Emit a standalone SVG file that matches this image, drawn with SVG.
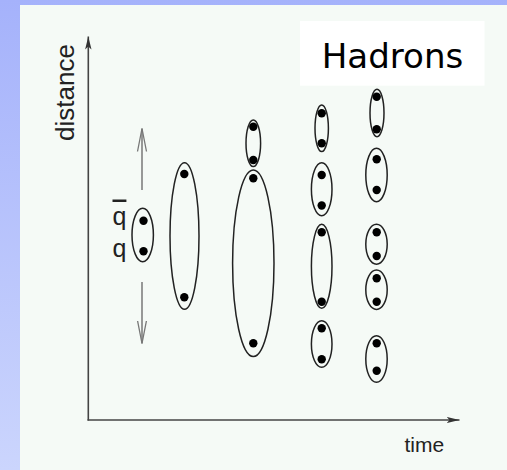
<svg xmlns="http://www.w3.org/2000/svg" width="507" height="470" viewBox="0 0 507 470">
  <defs>
    <linearGradient id="bg" x1="0" y1="0" x2="0" y2="1">
      <stop offset="0" stop-color="#a5b2fb"/>
      <stop offset="1" stop-color="#cbd5fd"/>
    </linearGradient>
    <marker id="axhead" markerWidth="14" markerHeight="8" refX="13" refY="4" orient="auto" markerUnits="userSpaceOnUse">
      <path d="M0,0.8 L13,4 L0,7.2 L3,4 Z" fill="#333"/>
    </marker>
    <marker id="vhead" markerWidth="26" markerHeight="12" refX="23" refY="6" orient="auto" markerUnits="userSpaceOnUse">
      <path d="M0,1.5 L23,6 L0,10.5" fill="none" stroke="#777" stroke-width="1.3"/>
    </marker>
  </defs>
  <style>
    .oval { fill: none; stroke: #222; stroke-width: 1.5; }
    .dot { fill: #000; }
    .axis { stroke: #444; stroke-width: 1.6; fill: none; }
    .sarrow { stroke: #777; stroke-width: 1.5; fill: none; }
    .lbl { font-family: "Liberation Sans", Arial, sans-serif; fill: #222; }
  </style>
  <rect x="0" y="0" width="507" height="470" fill="url(#bg)"/>
  <rect x="20" y="5" width="487" height="465" fill="#f5faf6"/>

  <g id="title">
    <rect x="300" y="21" width="184.5" height="64.7" fill="#ffffff"/>
    <text x="321.7" y="67.5" font-family="'DejaVu Sans', sans-serif" font-size="33" textLength="141.6" lengthAdjust="spacingAndGlyphs" fill="#000">Hadrons</text>
  </g>

  <g id="connectors">
    <line class="axis" x1="88.3" y1="420.5" x2="88.3" y2="36.5" marker-end="url(#axhead)"/>
    <line class="axis" x1="87.5" y1="420" x2="459.5" y2="420" marker-end="url(#axhead)"/>
    <line class="sarrow" x1="142" y1="190" x2="142" y2="128.5" marker-end="url(#vhead)"/>
    <line class="sarrow" x1="142" y1="282" x2="142" y2="343.5" marker-end="url(#vhead)"/>
  </g>

  <g id="axis-labels">
    <text class="lbl" x="0" y="0" font-size="26" text-anchor="middle" transform="translate(74,92.5) rotate(-90)">distance</text>
    <text class="lbl" x="404.5" y="451.8" font-size="21">time</text>
    <text class="lbl" x="112.5" y="224.5" font-size="25" text-decoration="overline">q</text>
    <text class="lbl" x="112.5" y="256.6" font-size="25">q</text>
  </g>

  <g id="pair-initial">
    <ellipse class="oval" cx="142.7" cy="235" rx="10.7" ry="26.7"/>
    <circle class="dot" cx="143.5" cy="220.7" r="4.2"/>
    <circle class="dot" cx="143.5" cy="251.2" r="4.2"/>
  </g>

  <g id="string-1">
    <ellipse class="oval" cx="184.5" cy="236" rx="14.5" ry="73.3"/>
    <circle class="dot" cx="184.3" cy="174" r="4.2"/>
    <circle class="dot" cx="184.3" cy="297.3" r="4.2"/>
  </g>

  <g id="hadron-3a">
    <ellipse class="oval" cx="253.3" cy="143.3" rx="7.3" ry="23.3"/>
    <circle class="dot" cx="253.3" cy="126.7" r="4.2"/>
    <circle class="dot" cx="253.3" cy="160" r="4.2"/>
  </g>
  <g id="string-3b">
    <ellipse class="oval" cx="253.3" cy="263.3" rx="20.7" ry="93.3"/>
    <circle class="dot" cx="253.3" cy="178.3" r="4.2"/>
    <circle class="dot" cx="253.3" cy="343.3" r="4.2"/>
  </g>

  <g id="hadron-4a">
    <ellipse class="oval" cx="321.7" cy="128.3" rx="6.7" ry="23.3"/>
    <circle class="dot" cx="321.7" cy="113.3" r="4.2"/>
    <circle class="dot" cx="321.7" cy="143.3" r="4.2"/>
  </g>
  <g id="hadron-4b">
    <ellipse class="oval" cx="321.7" cy="189.2" rx="10.3" ry="26.5"/>
    <circle class="dot" cx="321.7" cy="175" r="4.2"/>
    <circle class="dot" cx="321.7" cy="205.5" r="4.2"/>
  </g>
  <g id="string-4c">
    <ellipse class="oval" cx="321.7" cy="266.3" rx="10.3" ry="42"/>
    <circle class="dot" cx="321.7" cy="232.3" r="4.2"/>
    <circle class="dot" cx="321.7" cy="301.7" r="4.2"/>
  </g>
  <g id="hadron-4d">
    <ellipse class="oval" cx="321.7" cy="344" rx="10.3" ry="23.3"/>
    <circle class="dot" cx="321.7" cy="328.3" r="4.2"/>
    <circle class="dot" cx="321.7" cy="359.3" r="4.2"/>
  </g>

  <g id="hadron-5a">
    <ellipse class="oval" cx="377" cy="113" rx="7" ry="23.7"/>
    <circle class="dot" cx="376.7" cy="96.7" r="4.2"/>
    <circle class="dot" cx="376.7" cy="129.3" r="4.2"/>
  </g>
  <g id="hadron-5b">
    <ellipse class="oval" cx="376.5" cy="175" rx="10.7" ry="26.7"/>
    <circle class="dot" cx="376.7" cy="159.3" r="4.2"/>
    <circle class="dot" cx="376.7" cy="190" r="4.2"/>
  </g>
  <g id="hadron-5c">
    <ellipse class="oval" cx="376.5" cy="244.2" rx="10.7" ry="20"/>
    <circle class="dot" cx="376.7" cy="232.3" r="4.2"/>
    <circle class="dot" cx="376.7" cy="256" r="4.2"/>
  </g>
  <g id="hadron-5d">
    <ellipse class="oval" cx="376.5" cy="289.7" rx="10.7" ry="19.7"/>
    <circle class="dot" cx="376.7" cy="278.3" r="4.2"/>
    <circle class="dot" cx="376.7" cy="301.7" r="4.2"/>
  </g>
  <g id="hadron-5e">
    <ellipse class="oval" cx="376.5" cy="359" rx="10.7" ry="23.3"/>
    <circle class="dot" cx="376.7" cy="343.3" r="4.2"/>
    <circle class="dot" cx="376.7" cy="370.7" r="4.2"/>
  </g>
</svg>
